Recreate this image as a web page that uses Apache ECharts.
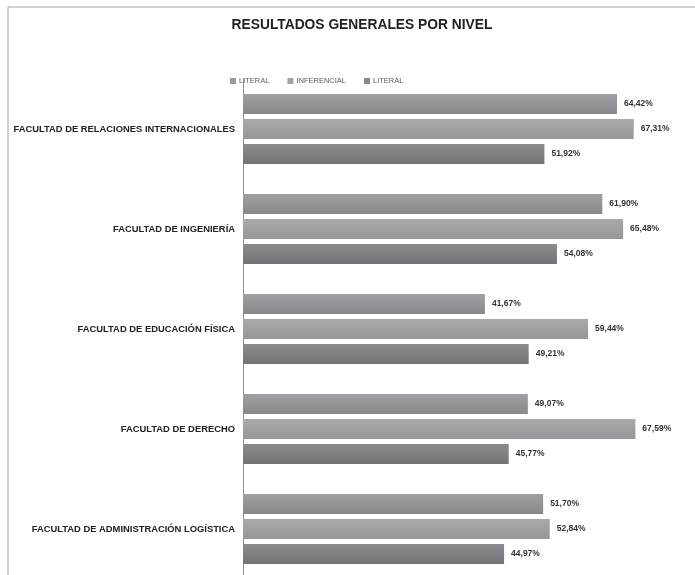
<!DOCTYPE html>
<html>
<head>
<meta charset="utf-8">
<script src="https://cdn.jsdelivr.net/npm/echarts@6/dist/echarts.min.js"></script>
<style>
  html, body { margin: 0; padding: 0; background: #fff; }
  #chart { width: 695px; height: 575px; }
</style>
</head>
<body>
<div id="chart"></div>
<script>
const categories = [
  "FACULTAD DE RELACIONES INTERNACIONALES",
  "FACULTAD DE INGENIERÍA",
  "FACULTAD DE EDUCACIÓN FÍSICA",
  "FACULTAD DE DERECHO",
  "FACULTAD DE ADMINISTRACIÓN LOGÍSTICA"
]
const seriesNames = ["LITERAL", "INFERENCIAL", "LITERAL"]
const literal1 = [64.42, 61.90, 41.67, 49.07, 51.70]
const inferencial = [67.31, 65.48, 59.44, 67.59, 52.84]
const literal2 = [51.92, 54.08, 49.21, 45.77, 44.97]

const barColors = [
  ["#a0a0a4", "#88888c"],
  ["#a9a9ad", "#97979b"],
  ["#8c8c90", "#737377"]
]

const FONT = "Liberation Sans, Arial, sans-serif"

const chart = echarts.init(document.getElementById("chart"))

const grad = (c) => new echarts.graphic.LinearGradient(0, 0, 0, 1, [
  { offset: 0, color: c[0] },
  { offset: 1, color: c[1] }
])

const makeSeries = (name, data, idx) => ({
  name: name,
  type: "bar",
  data: data,
  barWidth: 20,
  barGap: "25%",
  itemStyle: { color: grad(barColors[idx]) },
  label: {
    show: true,
    position: "right",
    distance: 7,
    fontFamily: FONT,
    fontWeight: "bold",
    fontSize: 8.5,
    color: "#333",
    formatter: (p) => p.value.toFixed(2).replace(".", ",") + "%"
  }
})

const option = {
  animation: false,
  title: {
    text: "RESULTADOS GENERALES POR NIVEL",
    left: 357,
    textAlign: "center",
    top: 13,
    textStyle: {
      fontFamily: FONT,
      fontWeight: "bold",
      fontSize: 13.8,
      color: "#222"
    }
  },
  legend: {
    left: 225,
    top: 72,
    itemWidth: 6,
    itemHeight: 6,
    itemGap: 18,
    icon: "rect",
    textStyle: {
      fontFamily: FONT,
      fontSize: 7.5,
      color: "#595959",
      padding: [0, 0, 0, -2]
    },
    data: [
      { name: "LITERAL", itemStyle: { color: "#9a9a9e" } },
      { name: "INFERENCIAL", itemStyle: { color: "#a4a4a8" } },
      { name: "LITERAL ", itemStyle: { color: "#88888c" } }
    ]
  },
  graphic: [{
    type: "rect",
    shape: { x: 8, y: 7, width: 720, height: 600 },
    style: { fill: "none", stroke: "#a6a6a6", lineWidth: 1 },
    silent: true,
    z: -1
  }],
  grid: {
    left: 243,
    top: 79,
    width: 447,
    height: 500,
    outerBoundsMode: "none",
    containLabel: false
  },
  xAxis: {
    type: "value",
    min: 0,
    max: 77,
    show: false
  },
  yAxis: {
    type: "category",
    data: categories,
    inverse: true,
    axisTick: { show: false },
    axisLine: { lineStyle: { color: "#8c8c8c", width: 1 } },
    axisLabel: {
      margin: 8,
      fontFamily: FONT,
      fontWeight: "bold",
      fontSize: 9.4,
      color: "#222"
    }
  },
  series: [
    makeSeries(seriesNames[0], literal1, 0),
    makeSeries(seriesNames[1], inferencial, 1),
    makeSeries(seriesNames[2] + " ", literal2, 2)
  ]
}

chart.setOption(option)
</script>
</body>
</html>
